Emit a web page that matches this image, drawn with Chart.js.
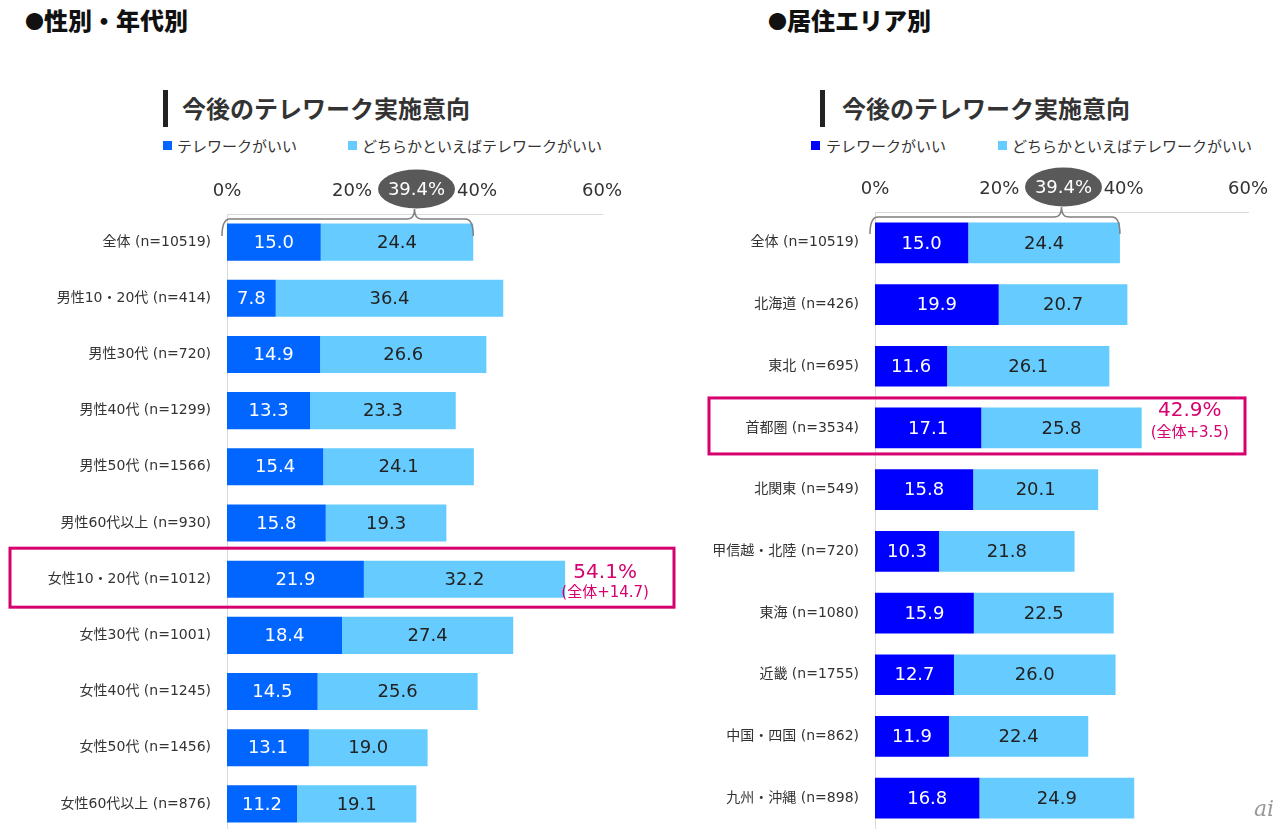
<!DOCTYPE html>
<html lang="ja">
<head>
<meta charset="utf-8">
<script src="https://cdn.jsdelivr.net/npm/chart.js@4.4.1/dist/chart.umd.min.js"></script>
<style>
  html, body { margin:0; padding:0; background:#fff; }
  body { width:1280px; height:829px; overflow:hidden; position:relative; font-family:'Noto Sans CJK JP', sans-serif; color:#333; }
  .abs { position:absolute; white-space:nowrap; }
  .sec { font-size:24px; font-weight:900; line-height:24px; color:#111; }
  .sec .dot { font-size:19px; vertical-align:1px; }
  .ttl { font-size:24px; font-weight:700; line-height:24px; color:#333; }
  .bar { background:#222; width:5px; height:37px; }
  .leg { font-size:15px; line-height:15px; color:#333; }
  .sq { width:9px; height:9px; }
  canvas { position:absolute; }
  .wm { font-family:'DejaVu Serif', serif; font-style:italic; font-size:22px; color:#999; }
</style>
</head>
<body>
<div class="abs sec" style="left:25px; top:8px;"><span class="dot">●</span>性別・年代別</div>
<div class="abs sec" style="left:768px; top:8px;"><span class="dot">●</span>居住エリア別</div>

<div class="abs bar" style="left:163px; top:90px;"></div>
<div class="abs ttl" style="left:182px; top:96px;">今後のテレワーク実施意向</div>
<div class="abs sq" style="left:163px; top:141px; background:#0066FF;"></div>
<div class="abs leg" style="left:177px; top:138px;">テレワークがいい</div>
<div class="abs sq" style="left:348px; top:141px; background:#66CCFF;"></div>
<div class="abs leg" style="left:362px; top:138px;">どちらかといえばテレワークがいい</div>

<div class="abs bar" style="left:820px; top:90px;"></div>
<div class="abs ttl" style="left:842px; top:96px;">今後のテレワーク実施意向</div>
<div class="abs sq" style="left:811px; top:141px; background:#0000FF;"></div>
<div class="abs leg" style="left:826px; top:138px;">テレワークがいい</div>
<div class="abs sq" style="left:998px; top:141px; background:#66CCFF;"></div>
<div class="abs leg" style="left:1012px; top:138px;">どちらかといえばテレワークがいい</div>

<canvas id="c1" width="690" height="700" style="left:0px; top:150px;"></canvas>
<canvas id="c2" width="590" height="679" style="left:690px; top:150px;"></canvas>
<div class="abs wm" style="left:1254px; top:796px;">ai</div>

<script>
// ---- Data: 性別・年代別 ----
const genderCategories = [
  '全体 (n=10519)', '男性10・20代 (n=414)', '男性30代 (n=720)', '男性40代 (n=1299)',
  '男性50代 (n=1566)', '男性60代以上 (n=930)', '女性10・20代 (n=1012)', '女性30代 (n=1001)',
  '女性40代 (n=1245)', '女性50代 (n=1456)', '女性60代以上 (n=876)'
];
const genderTelework = [15.0, 7.8, 14.9, 13.3, 15.4, 15.8, 21.9, 18.4, 14.5, 13.1, 11.2];
const genderRather   = [24.4, 36.4, 26.6, 23.3, 24.1, 19.3, 32.2, 27.4, 25.6, 19.0, 19.1];
const genderHighlight = 6;

// ---- Data: 居住エリア別 ----
const areaCategories = [
  '全体 (n=10519)', '北海道 (n=426)', '東北 (n=695)', '首都圏 (n=3534)', '北関東 (n=549)',
  '甲信越・北陸 (n=720)', '東海 (n=1080)', '近畿 (n=1755)', '中国・四国 (n=862)', '九州・沖縄 (n=898)'
];
const areaTelework = [15.0, 19.9, 11.6, 17.1, 15.8, 10.3, 15.9, 12.7, 11.9, 16.8];
const areaRather   = [24.4, 20.7, 26.1, 25.8, 20.1, 21.8, 22.5, 26.0, 22.4, 24.9];
const areaHighlight = 3;

const seriesNames = ['テレワークがいい', 'どちらかといえばテレワークがいい'];
const xTicks = [0, 20, 40, 60];

const PINK = '#D6006F';
const FONT_LAT = "'DejaVu Sans', 'Noto Sans CJK JP', sans-serif";

function makeChart(id, labels, dark, light, hi, cfg) {
  const total0 = dark[0] + light[0];
  const plugin = {
    id: 'deco_' + id,
    afterDatasetsDraw(chart) {
      const ctx = chart.ctx;
      ctx.save();
      ctx.font = '18px ' + FONT_LAT;
      ctx.textAlign = 'center';
      ctx.textBaseline = 'middle';
      chart.data.datasets.forEach((ds, i) => {
        const meta = chart.getDatasetMeta(i);
        meta.data.forEach((bar, j) => {
          const v = ds.data[j];
          const cx = (bar.base + bar.x) / 2;
          ctx.fillStyle = i === 0 ? '#ffffff' : '#222222';
          ctx.fillText(v.toFixed(1), cx, bar.y + 1);
        });
      });
      ctx.restore();
    },
    afterDraw(chart) {
      const ctx = chart.ctx;
      const xs = chart.scales.x, ys = chart.scales.y;
      const area = chart.chartArea;
      ctx.save();
      // brace over the overall bar
      const bx0 = xs.getPixelForValue(0) - 5;
      const bx1 = xs.getPixelForValue(total0);
      const tip = xs.getPixelForValue(30);
      const by = area.top + 5;
      ctx.strokeStyle = '#7f7f7f';
      ctx.lineWidth = 1.5;
      ctx.beginPath();
      ctx.moveTo(bx0, by + 17);
      ctx.quadraticCurveTo(bx0, by, bx0 + 8, by);
      ctx.lineTo(tip - 7, by);
      ctx.quadraticCurveTo(tip, by, tip, by - 10);
      ctx.quadraticCurveTo(tip, by, tip + 7, by);
      ctx.lineTo(bx1 - 8, by);
      ctx.quadraticCurveTo(bx1, by, bx1, by + 17);
      ctx.stroke();
      // ellipse with total
      const ey = area.top - 25;
      ctx.fillStyle = '#595959';
      ctx.beginPath();
      ctx.ellipse(tip + 2, ey, 38.5, 19.5, 0, 0, Math.PI * 2);
      ctx.fill();
      ctx.fillStyle = '#ffffff';
      ctx.font = '18px ' + FONT_LAT;
      ctx.textAlign = 'center';
      ctx.textBaseline = 'middle';
      ctx.fillText(total0.toFixed(1) + '%', tip + 2, ey + 1);
      // highlight box
      const hy = ys.getPixelForValue(hi);
      ctx.strokeStyle = PINK;
      ctx.lineWidth = 3;
      ctx.strokeRect(cfg.boxL, hy - cfg.boxUp, cfg.boxR - cfg.boxL, cfg.boxUp + cfg.boxDown);
      // annotation
      const tot = dark[hi] + light[hi];
      const ax = xs.getPixelForValue(tot) + cfg.annDx;
      ctx.fillStyle = PINK;
      ctx.font = '20px ' + FONT_LAT;
      ctx.fillText(tot.toFixed(1) + '%', ax, hy + cfg.annY1);
      ctx.font = '15px ' + FONT_LAT;
      ctx.fillText('(全体+' + (tot - total0).toFixed(1) + ')', ax, hy + cfg.annY2);
      ctx.restore();
    }
  };

  return new Chart(document.getElementById(id), {
    type: 'bar',
    data: {
      labels: labels,
      datasets: [
        { label: seriesNames[0], data: dark, backgroundColor: cfg.darkColor, barPercentage: 0.66, categoryPercentage: 1 },
        { label: seriesNames[1], data: light, backgroundColor: '#66CCFF', barPercentage: 0.66, categoryPercentage: 1 }
      ]
    },
    options: {
      indexAxis: 'y',
      responsive: false,
      animation: false,
      layout: { padding: cfg.padding },
      plugins: { legend: { display: false }, tooltip: { enabled: false }, title: { display: false } },
      scales: {
        x: {
          position: 'top', stacked: true, min: 0, max: 60,
          afterBuildTicks(s) { s.ticks = xTicks.map(v => ({ value: v })); },
          afterFit(s) { s.height = cfg.xHeight; s.paddingLeft = 0; s.paddingRight = 0; },
          grid: { display: false, drawTicks: false },
          border: { display: true, color: '#d9d9d9', width: 1 },
          ticks: { padding: 12, color: '#333', font: { size: 18, family: FONT_LAT }, callback: v => v + '%', maxRotation: 0 }
        },
        y: {
          stacked: true,
          afterFit(s) { s.width = cfg.yWidth; s.paddingTop = 0; s.paddingBottom = 0; },
          grid: { display: false, drawTicks: false },
          border: { display: true, color: '#d9d9d9', width: 1 },
          ticks: { padding: 16, color: '#333', font: { size: 14, family: FONT_LAT }, autoSkip: false }
        }
      }
    },
    plugins: [plugin]
  });
}

makeChart('c1', genderCategories, genderTelework, genderRather, genderHighlight, {
  darkColor: '#0066FF', padding: { left: 0, right: 88, top: 0, bottom: 18 },
  yWidth: 227, xHeight: 64, boxL: 10, boxR: 674, boxUp: 31, boxDown: 28,
  annDx: 40, annY1: -6, annY2: 14
});
makeChart('c2', areaCategories, areaTelework, areaRather, areaHighlight, {
  darkColor: '#0000FF', padding: { left: 0, right: 32, top: 0, bottom: 0 },
  yWidth: 185, xHeight: 62, boxL: 19, boxR: 555, boxUp: 30, boxDown: 26,
  annDx: 48, annY1: -17, annY2: 5
});
</script>
</body>
</html>
